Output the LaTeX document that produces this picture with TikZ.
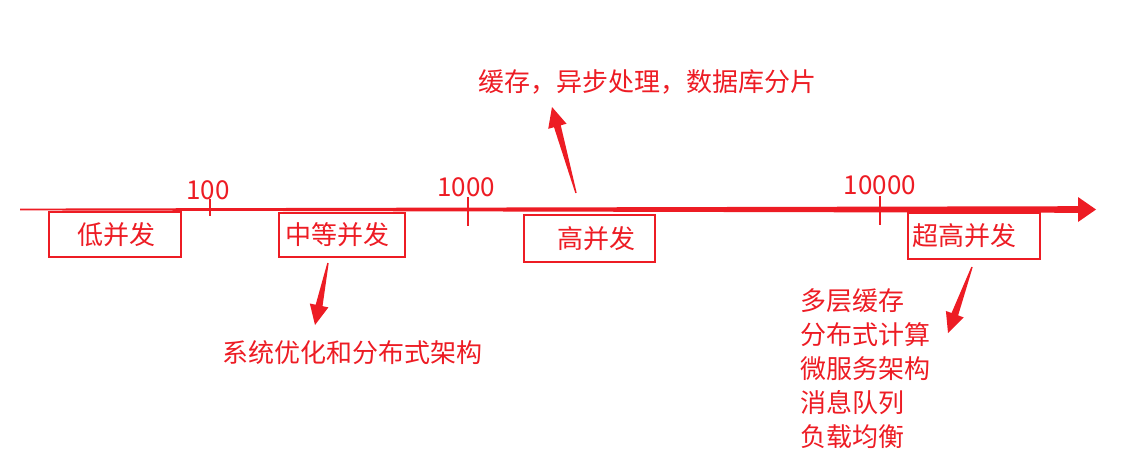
\documentclass[tikz,border=0pt]{standalone}
\usepackage{fontspec}
\setmainfont{Noto Sans CJK SC}
\usetikzlibrary{calc}
\definecolor{redz}{RGB}{237,28,36}
\newcommand\fatarrow[2]{%
  \path ($(#2)!20pt!(#1)$) coordinate (hb);
  \fill[redz] ($(#1)!0.7pt!90:(#2)$) -- ($(hb)!3.5pt!90:(#2)$) -- ($(hb)!9.5pt!90:(#2)$)
    -- (#2) -- ($(hb)!9.5pt!-90:(#2)$) -- ($(hb)!3.5pt!-90:(#2)$) -- ($(#1)!0.7pt!-90:(#2)$) -- cycle;
}
\tikzset{
  stagebox/.style={draw=redz, line width=1.6pt, text=redz, inner xsep=0pt, inner ysep=0pt,
    font=\fontsize{26pt}{30pt}\selectfont, align=left},
  lbl/.style={text=redz, font=\fontsize{26pt}{34pt}\selectfont, inner sep=0pt},
  tick/.style={draw=redz, line width=1.6pt},
}
\begin{document}
\begin{tikzpicture}[x=1pt,y=-1pt]
\useasboundingbox (0,0) rectangle (1124,474);
% axis
\coordinate (axstart) at (20,209.5);
\coordinate (axend) at (1096,209.5);
\fill[redz] (20,208.6) -- (1078,206.2) -- (1078,197) -- (axend) -- (1078,222) -- (1078,212.8) -- (20,210.4) -- cycle;
% ticks
\coordinate (k1a) at (210,199); \coordinate (k1b) at (210,216);
\coordinate (k2a) at (468,197); \coordinate (k2b) at (468,226);
\coordinate (k3a) at (880,196); \coordinate (k3b) at (880,225);
\draw[tick] (k1a) -- (k1b);
\draw[tick] (k2a) -- (k2b);
\draw[tick] (k3a) -- (k3b);
\node[lbl] (n100) at (208,190) {100};
\node[lbl] (n1000) at (466,187) {1000};
\node[lbl] (n10000) at (880,185) {10000};
% boxes
\node[stagebox, text width=132pt, minimum height=45pt] (low) at (115,234.5) {\hspace*{28pt}低并发};
\node[stagebox, text width=126pt, minimum height=44pt] (mid) at (342,235) {\hspace*{6pt}中等并发};
\node[stagebox, text width=131pt, minimum height=47pt] (high) at (589.5,238.5) {\hspace*{33pt}高并发};
\node[stagebox, text width=132pt, minimum height=46pt] (ultra) at (974,236) {\hspace*{4pt}超高并发};
% texts
\node[lbl, anchor=west] (thigh) at (478,82) {缓存，异步处理，数据库分片};
\node[lbl, anchor=west] (tmid) at (222,353) {系统优化和分布式架构};
\node[lbl, anchor=north west, align=left] (tultra) at (800,288) {多层缓存\\分布式计算\\微服务架构\\消息队列\\负载均衡};
% arrows
\coordinate (a1s) at (576,193); \coordinate (a1e) at (552,107);
\coordinate (a2s) at (328,263); \coordinate (a2e) at (315,325);
\coordinate (a3s) at (972,267); \coordinate (a3e) at (948,333);
\fatarrow{a1s}{a1e}
\fatarrow{a2s}{a2e}
\fatarrow{a3s}{a3e}
\end{tikzpicture}
\end{document}
